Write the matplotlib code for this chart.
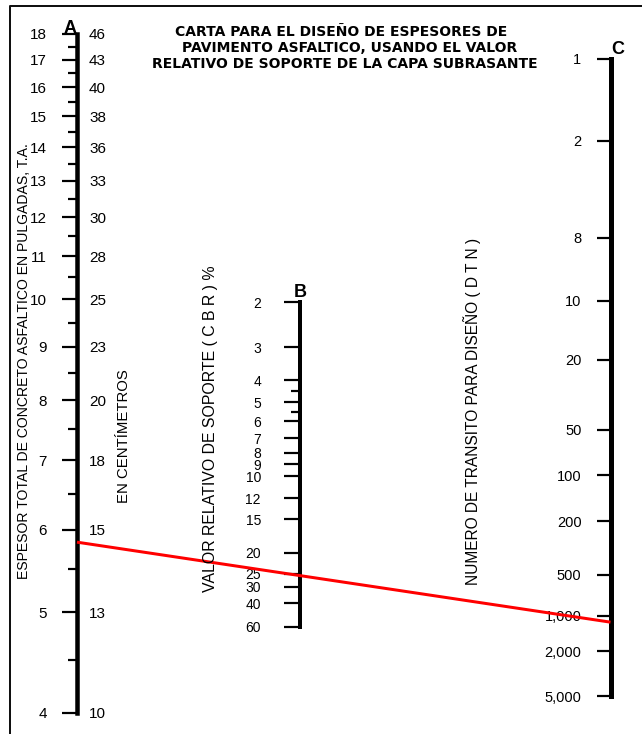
import numpy as np
import matplotlib
matplotlib.use("Agg")
import matplotlib.pyplot as plt
from matplotlib.ticker import FixedLocator, NullFormatter

plt.rcParams['font.family'] = ['Liberation Sans', 'DejaVu Sans']

# ---------------- data ----------------
espesor_pulg = [4, 5, 6, 7, 8, 9, 10, 11, 12, 13, 14, 15, 16, 17, 18]
espesor_cm = ["10", "13", "15", "18", "20", "23", "25", "28", "30", "33",
              "36", "38", "40", "43", "46"]
espesor_medios = [4.5, 5.5, 6.5, 7.5, 8.5, 9.5, 10.5, 11.5, 12.5, 13.5,
                  14.5, 15.5, 16.5, 17.5]
cbr_valores = [2, 3, 4, 5, 6, 7, 8, 9, 10, 12, 15, 20, 25, 30, 40, 60]
cbr_medios = [4.5, 5.5]
dtn_valores = [1, 2, 8, 10, 20, 50, 100, 200, 500, 1000, 2000, 5000]

# example solution line (espesor in pulgadas, DTN)
ejemplo_espesor = 5.84
ejemplo_dtn = 1130

# graduation of the (hand drawn) B and C scales: fraction of scale length from top
cbr_grad_vals = [2, 3, 4, 4.5, 5, 5.5, 6, 7, 8, 9, 10, 12, 15, 20, 25, 30, 40, 60]
cbr_grad_frac = [0.0, 0.1385, 0.240, 0.2738, 0.3077, 0.3385, 0.3662, 0.4185,
                 0.4646, 0.4985, 0.5354, 0.6031, 0.6677, 0.7723, 0.8369,
                 0.8769, 0.9262, 1.0]
dtn_grad_vals = dtn_valores
dtn_grad_frac = [0.0, 0.1287, 0.2810, 0.3799, 0.4725, 0.5824, 0.6531, 0.7253,
                 0.8100, 0.8744, 0.9294, 1.0]

# ---------------- figure ----------------
W, H = 642, 734
fig = plt.figure(figsize=(W / 100, H / 100), dpi=100)
PX = 72 / 100.0  # points per pixel

ax0 = fig.add_axes([0, 0, 1, 1])
ax0.set_xlim(0, W)
ax0.set_ylim(H, 0)
ax0.axis('off')
ax0.set_zorder(10)
ax0.patch.set_visible(False)


def make_scale(vals, fracs):
    lv = np.log10(np.asarray(vals, float))
    fr = np.asarray(fracs, float)
    s0 = (fr[1] - fr[0]) / (lv[1] - lv[0])
    s1 = (fr[-1] - fr[-2]) / (lv[-1] - lv[-2])

    def fwd(v):
        x = np.log10(np.clip(np.asarray(v, float), 1e-12, None))
        y = np.interp(x, lv, fr)
        y = np.where(x < lv[0], fr[0] + (x - lv[0]) * s0, y)
        y = np.where(x > lv[-1], fr[-1] + (x - lv[-1]) * s1, y)
        return y

    def inv(y):
        y = np.asarray(y, float)
        x = np.interp(y, fr, lv)
        x = np.where(y < fr[0], lv[0] + (y - fr[0]) / s0, x)
        x = np.where(y > fr[-1], lv[-1] + (y - fr[-1]) / s1, x)
        return 10 ** x
    return fwd, inv


def scale_axes(x, ytop, ybot, spine_px):
    ax = fig.add_axes([x / W, 1 - ybot / H, 1 / W, (ybot - ytop) / H])
    ax.patch.set_visible(False)
    for s in ['top', 'right', 'bottom']:
        ax.spines[s].set_visible(False)
    ax.spines['left'].set_linewidth(spine_px * PX)
    ax.spines['left'].set_capstyle('projecting')
    ax.xaxis.set_visible(False)
    return ax


# ---- scale A (log, pulgadas / cm) ----
axA = scale_axes(77, 34, 713, 4.5)
axA.set_yscale('log')
axA.set_ylim(espesor_pulg[0], espesor_pulg[-1])
axA.set_yticks(espesor_pulg, labels=[str(v) for v in espesor_pulg])
axA.yaxis.set_minor_locator(FixedLocator(espesor_medios))
axA.yaxis.set_minor_formatter(NullFormatter())
axA.tick_params(axis='y', which='major', direction='out', length=15 * PX,
                width=2.2 * PX, pad=15 * PX, labelsize=11)
axA.tick_params(axis='y', which='minor', direction='out', length=9 * PX,
                width=2.2 * PX)
axA.yaxis.get_major_ticks()[-1].tick1line.set_visible(False)

axA2 = axA.twinx()
axA2.set_yscale('log')
axA2.set_ylim(espesor_pulg[0], espesor_pulg[-1])
axA2.set_yticks(espesor_pulg, labels=espesor_cm)
axA2.yaxis.set_minor_locator(FixedLocator([]))
axA2.tick_params(axis='y', which='major', length=0, pad=11 * PX, labelsize=11)
for s in axA2.spines.values():
    s.set_visible(False)

# ---- scale B (CBR) ----
axB = scale_axes(300, 302, 627, 4.0)
axB.set_yscale('function', functions=make_scale(cbr_grad_vals, cbr_grad_frac))
axB.set_ylim(cbr_valores[-1], cbr_valores[0])
axB.set_yticks(cbr_valores, labels=[str(v) for v in cbr_valores])
axB.yaxis.set_minor_locator(FixedLocator(cbr_medios))
axB.yaxis.set_minor_formatter(NullFormatter())
axB.tick_params(axis='y', which='major', direction='out', length=16 * PX,
                width=2.2 * PX, pad=23 * PX, labelsize=10)
axB.tick_params(axis='y', which='minor', direction='out', length=9 * PX,
                width=2.2 * PX)

# ---- scale C (DTN) ----
axC = scale_axes(610.5, 59, 696, 5.0)
axC.set_yscale('function', functions=make_scale(dtn_grad_vals, dtn_grad_frac))
axC.set_ylim(dtn_valores[-1], dtn_valores[0])
axC.set_yticks(dtn_valores, labels=[f"{v:,}" for v in dtn_valores])
axC.yaxis.set_minor_locator(FixedLocator([]))
axC.tick_params(axis='y', which='major', direction='out', length=14 * PX,
                width=2.2 * PX, pad=15 * PX, labelsize=10.5)

# ---- frame ----
ax0.plot([10, 10, W], [H, 6, 6], color='#111111', lw=2 * PX, solid_capstyle='butt')

# ---- titles / labels ----
title_lines = ["CARTA PARA EL DISEÑO DE ESPESORES DE",
               "PAVIMENTO ASFALTICO, USANDO EL VALOR",
               "RELATIVO DE SOPORTE DE LA CAPA SUBRASANTE"]
for (xc, yb), line in zip([(341, 36), (350, 52), (345, 68)], title_lines):
    ax0.text(xc, yb, line, ha='center', va='baseline', fontsize=10.0,
             fontweight='bold', family='DejaVu Sans')

ax0.text(70, 33, "A", ha='center', va='baseline', fontsize=13, fontweight='bold')
ax0.text(300, 297, "B", ha='center', va='baseline', fontsize=13, fontweight='bold')
ax0.text(618, 54, "C", ha='center', va='baseline', fontsize=13, fontweight='bold')

ax0.text(24, 361, "ESPESOR TOTAL DE CONCRETO ASFALTICO EN PULGADAS, T.A.",
         rotation=90, ha='center', va='center', fontsize=10.1)
ax0.text(124, 436, "EN CENTÍMETROS", rotation=90, ha='center', va='center',
         fontsize=10.7)
ax0.text(211, 429, "VALOR RELATIVO DE SOPORTE ( C B R ) %", rotation=90,
         ha='center', va='center', fontsize=11.4)
ax0.text(472, 411, "NUMERO DE TRANSITO PARA DISEÑO ( D T N )", rotation=90,
         ha='center', va='center', fontsize=11.2)

# ---- example line through the three scales ----
pA = axA.transData.transform((0, ejemplo_espesor))
pC = axC.transData.transform((0, ejemplo_dtn))
pts = ax0.transData.inverted().transform(np.array([pA, pC]))
ax0.plot(pts[:, 0], pts[:, 1], color='#ff0000', lw=3 * PX, solid_capstyle='butt')

fig.savefig("out.png", dpi=100)
